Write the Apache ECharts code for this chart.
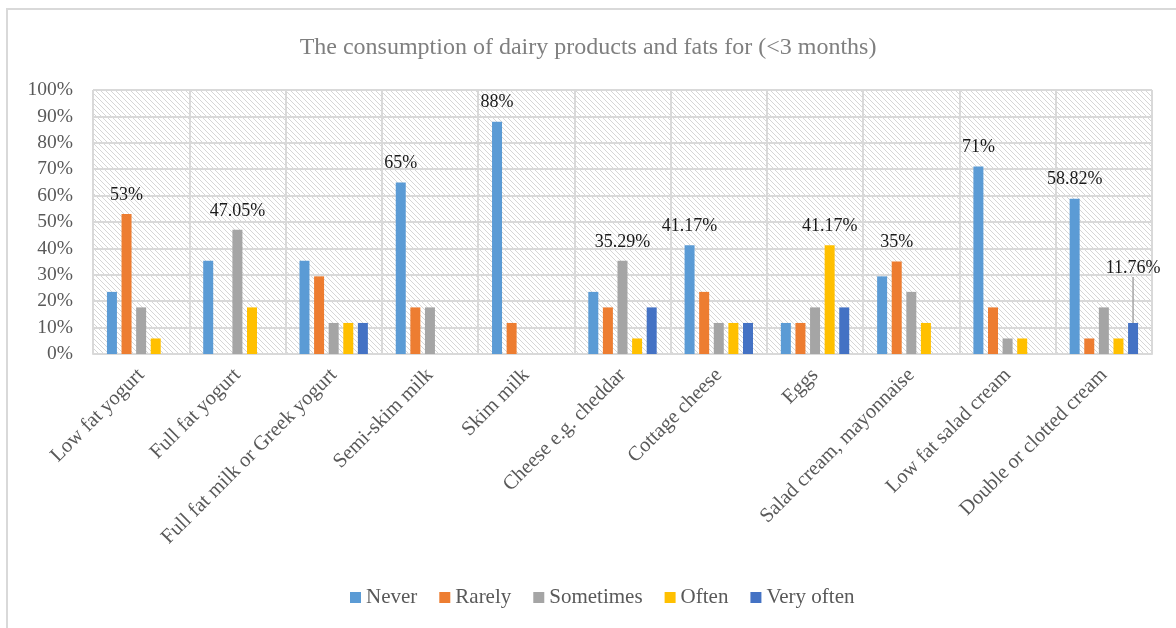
<!DOCTYPE html>
<html>
<head>
<meta charset="utf-8">
<script src="https://cdn.jsdelivr.net/npm/echarts@6/dist/echarts.min.js"></script>
<style>
  html, body { margin: 0; padding: 0; background: #fff; }
  #chart { width: 1176px; height: 628px; }
</style>
</head>
<body>
<div id="chart"></div>
<script>
// Foods surveyed
const categories = [
  'Low fat yogurt', 'Full fat yogurt', 'Full fat milk or Greek yogurt', 'Semi-skim milk',
  'Skim milk', 'Cheese e.g. cheddar', 'Cottage cheese', 'Eggs',
  'Salad cream, mayonnaise', 'Low fat salad cream', 'Double or clotted cream'
];

// Share of respondents (%) per frequency
const never     = [23.53, 35.29, 35.29, 65, 88, 23.53, 41.17, 11.76, 29.41, 71, 58.82];
const rarely    = [53, 0, 29.41, 17.65, 11.76, 17.65, 23.53, 11.76, 35, 17.65, 5.88];
const sometimes = [17.65, 47.05, 11.76, 17.65, 0, 35.29, 11.76, 17.65, 23.53, 5.88, 17.65];
const often     = [5.88, 17.65, 11.76, 0, 0, 5.88, 11.76, 41.17, 11.76, 5.88, 5.88];
const veryOften = [0, 0, 11.76, 0, 0, 17.65, 11.76, 17.65, 0, 0, 11.76];

// Which bars carry a value label (category indices)
const labelledNever     = [3, 4, 6, 9, 10];
const labelledRarely    = [0, 8];
const labelledSometimes = [1, 5];
const labelledOften     = [7];
const labelledVeryOften = [10];

const yTicks = { min: 0, max: 100, interval: 10 };

const FONT = '"Liberation Serif", "Times New Roman", serif';

// Diagonal hatch used behind the plot
function hatch() {
  const c = document.createElement('canvas');
  const n = 5;
  c.width = n; c.height = n;
  const ctx = c.getContext('2d');
  ctx.fillStyle = '#ffffff';
  ctx.fillRect(0, 0, n, n);
  ctx.fillStyle = '#d6d6d6';
  for (let i = 0; i < n; i++) ctx.fillRect(i, i, 1, 1);
  return c;
}

function build(name, values, labelled, color, lifted) {
  return {
    name: name,
    type: 'bar',
    barWidth: 10,
    barGap: '46%',
    itemStyle: { color: color },
    data: values.map((v, i) => {
      if (labelled.indexOf(i) < 0) return v;
      return {
        value: v,
        label: {
          show: true,
          position: 'top',
          distance: 10,
          formatter: p => p.value + '%',
          fontFamily: FONT,
          fontSize: 18,
          color: '#1a1a1a'
        },
        labelLine: lifted ? { show: true, lineStyle: { color: '#a6a6a6', width: 1.5 } } : undefined
      };
    }),
    labelLayout: lifted ? { dy: -36 } : undefined
  };
}

const chart = echarts.init(document.getElementById('chart'), null, { renderer: 'canvas' });
chart.setOption({
  animation: false,
  backgroundColor: '#ffffff',
  title: {
    text: 'The consumption of dairy products and fats for (<3 months)',
    left: 'center',
    top: 31,
    textStyle: { fontFamily: FONT, fontSize: 24, fontWeight: 'normal', color: '#7f7f7f' }
  },
  graphic: [{
    type: 'rect',
    shape: { x: 7, y: 9, width: 1300, height: 800 },
    style: { fill: 'none', stroke: '#d9d9d9', lineWidth: 2 },
    silent: true,
    z: -1
  }],
  legend: {
    top: 582,
    left: 345,
    itemWidth: 11,
    itemHeight: 11,
    itemGap: 22,
    icon: 'rect',
    textStyle: { fontFamily: FONT, fontSize: 21, color: '#595959' },
    data: ['Never', 'Rarely', 'Sometimes', 'Often', 'Very often']
  },
  grid: {
    left: 93, right: 24, top: 90, bottom: 274,
    show: true,
    backgroundColor: { image: hatch(), repeat: 'repeat' },
    borderWidth: 0
  },
  xAxis: {
    type: 'category',
    data: categories,
    axisLine: { lineStyle: { color: '#d9d9d9', width: 2 } },
    axisTick: { show: false },
    splitLine: { show: true, interval: 0, lineStyle: { color: '#d9d9d9', width: 2 } },
    axisLabel: {
      interval: 0,
      rotate: 45,
      margin: 18,
      fontFamily: FONT,
      fontSize: 20.5,
      color: '#595959'
    }
  },
  yAxis: {
    type: 'value',
    min: yTicks.min,
    max: yTicks.max,
    interval: yTicks.interval,
    axisLine: { show: false },
    axisTick: { show: false },
    splitLine: { lineStyle: { color: '#d9d9d9', width: 2 } },
    axisLabel: {
      formatter: '{value}%',
      margin: 20,
      fontFamily: FONT,
      fontSize: 19.5,
      color: '#595959'
    }
  },
  series: [
    build('Never', never, labelledNever, '#5B9BD5', false),
    build('Rarely', rarely, labelledRarely, '#ED7D31', false),
    build('Sometimes', sometimes, labelledSometimes, '#A5A5A5', false),
    build('Often', often, labelledOften, '#FFC000', false),
    build('Very often', veryOften, labelledVeryOften, '#4472C4', true)
  ]
});
</script>
</body>
</html>
